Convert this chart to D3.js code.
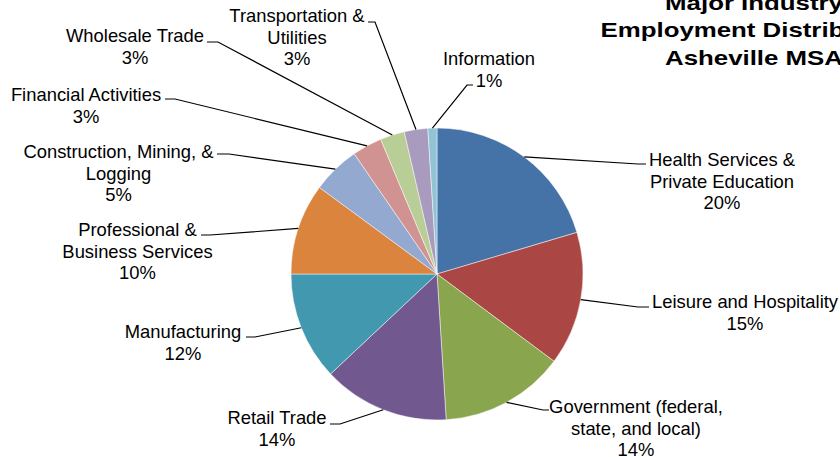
<!DOCTYPE html>
<html>
<head>
<meta charset="utf-8">
<script src="https://cdn.jsdelivr.net/npm/d3@7/dist/d3.min.js"></script>
<style>
  html, body { margin: 0; padding: 0; background: #fff; }
  svg { display: block; }
  text { font-family: "Liberation Sans", Arial, sans-serif; fill: #000; }
</style>
</head>
<body>
<svg id="chart" width="840" height="457"></svg>
<script>
// ---- Data ----
const categories = [
  "Health Services & Private Education",
  "Leisure and Hospitality",
  "Government (federal, state, and local)",
  "Retail Trade",
  "Manufacturing",
  "Professional & Business Services",
  "Construction, Mining, & Logging",
  "Financial Activities",
  "Wholesale Trade",
  "Transportation & Utilities",
  "Information"
];
const labelLines = [
  ["Health Services &", "Private Education"],
  ["Leisure and Hospitality"],
  ["Government (federal,", "state, and local)"],
  ["Retail Trade"],
  ["Manufacturing"],
  ["Professional &", "Business Services"],
  ["Construction, Mining, &", "Logging"],
  ["Financial Activities"],
  ["Wholesale Trade"],
  ["Transportation &", "Utilities"],
  ["Information"]
];
const values = [20.4, 14.8, 13.8, 14.0, 12.0, 10.1, 5.3, 3.3, 2.7, 2.6, 1.0];
const titleLines = ["Major Industry", "Employment Distribution", "Asheville MSA"];

// ---- Styles / layout ----
const colors = ["#4572A7", "#AA4643", "#89A54E", "#71588F", "#4198AF", "#DB843D",
                "#93A9CF", "#D19392", "#B9CD96", "#A99BBD", "#92C3D5"];
// label layout: [textX, firstBaselineY, tickEndX, elbowX, tickY]
const labelLayout = [
  [722, 166, 646, 638, 164],
  [745, 308, 649, 638, 307],
  [636, 413, 549, 543, 410],
  [277, 424, 330, 340, 424],
  [183, 338, 246, 255, 337],
  [137.5, 236, 201, 210, 235],
  [118.5, 158, 217, 229, 154],
  [86, 101, 165, 175, 99],
  [135, 42, 207, 218, 42],
  [297, 22, 368, 375, 22],
  [489, 65, 473, 467, 85]
];
const cx = 437, cy = 274, R = 146;
const lineH = 21.5;

const svg = d3.select("#chart");
const total = d3.sum(values);
const data = values.map((v, i) => ({ name: categories[i], value: v, i }));

const pie = d3.pie().sort(null).value(d => d.value);
const arcs = pie(data);
const arc = d3.arc().innerRadius(0).outerRadius(R);
const edge = d3.arc().innerRadius(R).outerRadius(R);

const g = svg.append("g").attr("transform", `translate(${cx},${cy})`);
g.selectAll("path.slice").data(arcs).enter().append("path")
  .attr("class", "slice")
  .attr("d", arc)
  .attr("fill", d => colors[d.data.i])
  .attr("stroke", "#ffffff")
  .attr("stroke-width", 0.6)
  .attr("stroke-opacity", 0.8);

// leader lines
svg.selectAll("path.leader").data(arcs).enter().append("path")
  .attr("class", "leader")
  .attr("fill", "none")
  .attr("stroke", "#000")
  .attr("stroke-width", 1.2)
  .attr("d", d => {
    const c = edge.centroid(d);
    const L = labelLayout[d.data.i];
    const p = d3.path();
    p.moveTo(cx + c[0], cy + c[1]);
    p.lineTo(L[3], L[4]);
    p.lineTo(L[2], L[4]);
    return p.toString();
  });

// labels
const fmt = v => Math.round(v / total * 100) + "%";
arcs.forEach(d => {
  const L = labelLayout[d.data.i];
  const lines = labelLines[d.data.i].concat([fmt(d.data.value)]);
  const t = svg.append("text")
    .attr("text-anchor", "middle")
    .attr("font-size", "18.4px")
    .attr("x", L[0]).attr("y", L[1]);
  lines.forEach((s, k) => {
    t.append("tspan").attr("x", L[0]).attr("dy", k === 0 ? 0 : lineH).text(s);
  });
});

// title (clipped at right edge, as in reference)
const title = svg.append("g").attr("transform", "translate(754,0) scale(1.23,1)");
titleLines.forEach((s, k) => {
  title.append("text")
    .attr("text-anchor", "middle")
    .attr("font-weight", "bold")
    .attr("font-size", "21px")
    .attr("x", 0)
    .attr("y", 9.5 + k * 27.6)
    .text(s);
});
</script>
</body>
</html>
